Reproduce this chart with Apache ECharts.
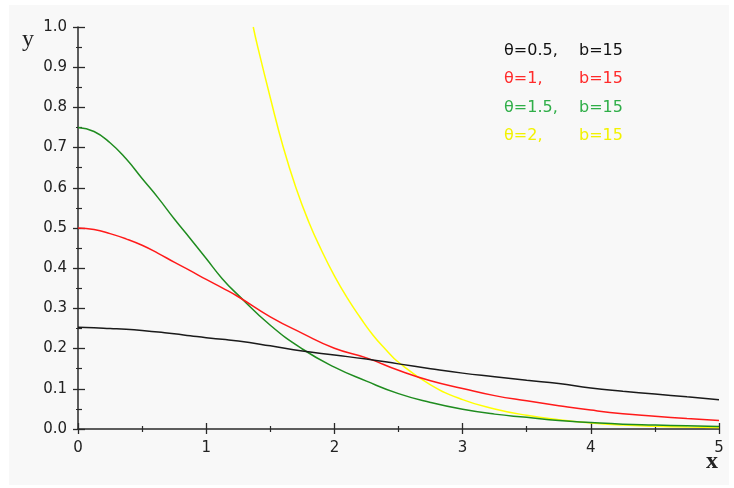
<!DOCTYPE html>
<html><head><meta charset="utf-8">
<script src="https://cdn.jsdelivr.net/npm/echarts@6/dist/echarts.min.js"></script>
<style>
html,body{margin:0;padding:0;background:#ffffff;}
#bg{position:absolute;left:9px;top:5px;width:720px;height:480px;background:#f8f8f8;}
#c{position:absolute;left:0;top:0;width:734px;height:488px;}
</style>
</head><body><div id="bg"></div><div id="c"></div>
<script>
// x positions for the θ=0.5, θ=1, θ=1.5 curves
const xA = [0,0.125,0.25,0.375,0.5,0.625,0.75,0.875,1,1.125,1.25,1.5,1.75,2,2.25,2.5,2.75,3,3.25,3.5,3.75,4,4.25,4.5,4.75,5];
const theta05 = [0.253,0.252,0.250,0.248,0.245,0.241,0.237,0.232,0.227,0.223,0.219,0.207,0.194,0.184,0.174,0.162,0.150,0.139,0.130,0.121,0.113,0.102,0.094,0.087,0.080,0.073];
const theta1  = [0.500,0.496,0.486,0.473,0.457,0.437,0.415,0.394,0.372,0.351,0.329,0.279,0.238,0.201,0.177,0.146,0.120,0.101,0.083,0.070,0.058,0.047,0.038,0.032,0.026,0.021];
const theta15 = [0.750,0.740,0.712,0.672,0.623,0.575,0.523,0.474,0.424,0.374,0.333,0.258,0.199,0.154,0.119,0.088,0.066,0.049,0.037,0.029,0.021,0.016,0.012,0.010,0.008,0.006];
// x positions for the θ=2 curve (starts where it enters the plot at y=1)
const xB = [1.367,1.4,1.5,1.6,1.7,1.8,1.9,2.0,2.1,2.2,2.3,2.4,2.5,2.75,3,3.25,3.5,3.75,4,4.25,4.5,4.75,5];
const theta2  = [1.0,0.953,0.824,0.702,0.600,0.515,0.444,0.381,0.326,0.278,0.234,0.198,0.166,0.110,0.073,0.050,0.034,0.023,0.015,0.010,0.007,0.005,0.004];

const legendLeft  = ['θ=0.5,', 'θ=1,', 'θ=1.5,', 'θ=2,'];
const legendRight = ['b=15', 'b=15', 'b=15', 'b=15'];
const lineColors = ['#1a1a1a', '#ff1a1a', '#1f8c1f', '#ffff00'];
const textColors = ['#111111', '#ff2a2a', '#2fae48', '#f2f200'];

const pairs = (xs, ys) => xs.map((x, i) => [x, ys[i]]);
const seriesData = [pairs(xA, theta05), pairs(xA, theta1), pairs(xA, theta15), pairs(xB, theta2)];

const axisCol = '#2a2a2a';
const chart = echarts.init(document.getElementById('c'), null, {renderer: 'canvas'});

const legendGraphics = [];
legendLeft.forEach((t, i) => {
  legendGraphics.push({type:'text', left: 504, top: 43 + i*28.2,
    style:{text: t, fill: textColors[i], font: '16px "DejaVu Sans"'}});
  legendGraphics.push({type:'text', left: 579, top: 43 + i*28.2,
    style:{text: legendRight[i], fill: textColors[i], font: '16px "DejaVu Sans"'}});
});

chart.setOption({
  animation: false,
  backgroundColor: 'transparent',
  grid: {left: 78, top: 27, width: 641, height: 402, containLabel: false},
  xAxis: [
    {type:'value', min:0, max:5, interval:1, position:'bottom',
     axisLine:{show:true, onZero:false, lineStyle:{color:axisCol, width:1.5}},
     axisTick:{show:true, inside:false, length:5, lineStyle:{color:axisCol, width:1.3}},
     minorTick:{show:true, splitNumber:2, length:3, lineStyle:{color:axisCol, width:1.2}},
     splitLine:{show:false},
     axisLabel:{margin:12, color:'#222', fontFamily:'DejaVu Sans', fontSize:15}},
    {type:'value', min:0, max:5, interval:1, position:'bottom', offset:0,
     axisLine:{show:false, onZero:false},
     axisTick:{show:true, inside:true, length:6, lineStyle:{color:axisCol, width:1.3}},
     minorTick:{show:true, splitNumber:2, length:3, lineStyle:{color:axisCol, width:1.2}},
     splitLine:{show:false}, axisLabel:{show:false}}
  ],
  yAxis: [
    {type:'value', min:0, max:1, interval:0.1, position:'left',
     axisLine:{show:true, onZero:false, lineStyle:{color:axisCol, width:1.5}},
     axisTick:{show:true, inside:false, length:5, lineStyle:{color:axisCol, width:1.3}},
     minorTick:{show:true, splitNumber:2, length:2, lineStyle:{color:axisCol, width:1.2}},
     splitLine:{show:false},
     axisLabel:{margin:11, color:'#222', fontFamily:'DejaVu Sans', fontSize:15,
       formatter: v => v.toFixed(1)}},
    {type:'value', min:0, max:1, interval:0.1, position:'left', offset:0,
     axisLine:{show:false, onZero:false},
     axisTick:{show:true, inside:true, length:7, lineStyle:{color:axisCol, width:1.3}},
     minorTick:{show:true, splitNumber:2, length:4, lineStyle:{color:axisCol, width:1.2}},
     splitLine:{show:false}, axisLabel:{show:false}}
  ],
  series: seriesData.map((d, i) => ({
    type:'line', data:d, xAxisIndex:0, yAxisIndex:0,
    showSymbol:false, smooth:0.5, clip:true,
    lineStyle:{color:lineColors[i], width:1.5}, z: 3 + (3 - i)
  })),
  graphic: [
    {type:'text', left: 22, top: 28, style:{text:'y', fill:'#222', font:'24px "Liberation Serif"'}},
    {type:'text', left: 706, top: 450, style:{text:'x', fill:'#222', font:'bold 24px "Liberation Serif"'}},
    ...legendGraphics
  ]
});
</script>
</body></html>
